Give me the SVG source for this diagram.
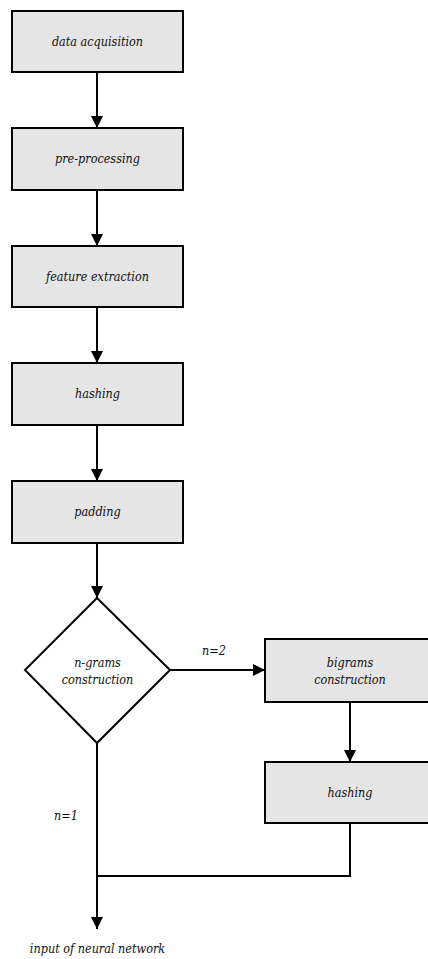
<svg xmlns="http://www.w3.org/2000/svg" width="428" height="959" viewBox="0 0 428 959">
  <style>
    .box { fill: #e5e5e5; stroke: #000; stroke-width: 2; }
    .dec { fill: #fff; stroke: #000; stroke-width: 2; }
    .lbl { font-family: "DejaVu Serif", "Liberation Serif", serif; font-stretch: condensed; font-style: italic; font-size: 12.5px; fill: #111; text-anchor: middle; }
    .edge { fill: none; stroke: #000; stroke-width: 2; }
  </style>
  <defs>
    <marker id="arrow" viewBox="0 0 12 12" refX="12" refY="6" markerWidth="12" markerHeight="12" markerUnits="userSpaceOnUse" orient="auto">
      <path d="M0,0 L12,6 L0,12 Z" fill="#000"/>
    </marker>
  </defs>
  <rect width="428" height="959" fill="#fff"/>

  <g id="connectors">
    <line class="edge" x1="97" y1="72" x2="97" y2="128" marker-end="url(#arrow)"/>
    <line class="edge" x1="97" y1="190" x2="97" y2="246" marker-end="url(#arrow)"/>
    <line class="edge" x1="97" y1="307" x2="97" y2="363" marker-end="url(#arrow)"/>
    <line class="edge" x1="97" y1="425" x2="97" y2="481" marker-end="url(#arrow)"/>
    <line class="edge" x1="97" y1="543" x2="97" y2="598" marker-end="url(#arrow)"/>
    <line class="edge" x1="170" y1="670" x2="265" y2="670" marker-end="url(#arrow)"/>
    <line class="edge" x1="350" y1="702" x2="350" y2="762" marker-end="url(#arrow)"/>
    <polyline class="edge" points="350,823 350,876 97,876"/>
    <line class="edge" x1="97" y1="743" x2="97" y2="929" marker-end="url(#arrow)"/>
    <text class="lbl" x="214" y="655">n=2</text>
    <text class="lbl" x="66" y="820">n=1</text>
  </g>

  <g id="data-acquisition">
    <rect class="box" x="12" y="11" width="171" height="61"/>
    <text class="lbl" x="97.5" y="46">data acquisition</text>
  </g>
  <g id="pre-processing">
    <rect class="box" x="12" y="128" width="171" height="62"/>
    <text class="lbl" x="97.5" y="163">pre-processing</text>
  </g>
  <g id="feature-extraction">
    <rect class="box" x="12" y="246" width="171" height="61"/>
    <text class="lbl" x="97.5" y="281">feature extraction</text>
  </g>
  <g id="hashing">
    <rect class="box" x="12" y="363" width="171" height="62"/>
    <text class="lbl" x="97.5" y="398">hashing</text>
  </g>
  <g id="padding">
    <rect class="box" x="12" y="481" width="171" height="62"/>
    <text class="lbl" x="97.5" y="516">padding</text>
  </g>
  <g id="ngrams">
    <polygon class="dec" points="97,598 170,670 97,743 25,670"/>
    <text class="lbl" x="97.5" y="667">n-grams</text>
    <text class="lbl" x="97.5" y="684">construction</text>
  </g>
  <g id="bigrams">
    <rect class="box" x="265" y="639" width="171" height="63"/>
    <text class="lbl" x="350" y="667">bigrams</text>
    <text class="lbl" x="350" y="684">construction</text>
  </g>
  <g id="hashing-2">
    <rect class="box" x="265" y="762" width="171" height="61"/>
    <text class="lbl" x="350" y="797">hashing</text>
  </g>
  <g id="output">
    <text class="lbl" x="97.5" y="953">input of neural network</text>
  </g>
</svg>
